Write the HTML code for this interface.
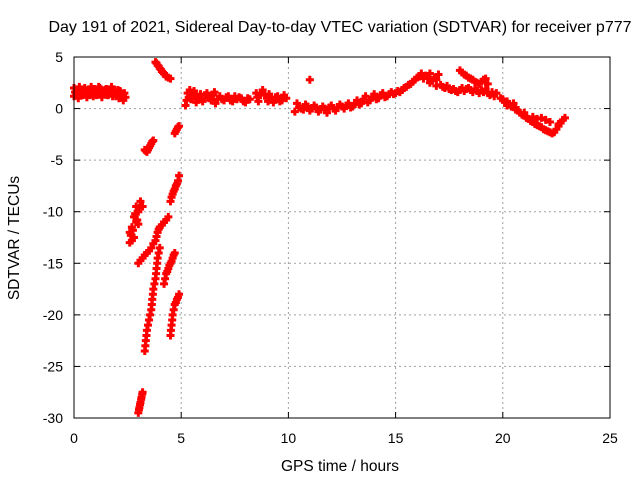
<!DOCTYPE html>
<html><head><meta charset="utf-8"><style>
body{margin:0;background:#fff;}
svg{display:block;font-family:"Liberation Sans",sans-serif;}
</style></head><body>
<svg id="chart" width="640" height="480">
<text x="340" y="32" font-size="16" text-anchor="middle">Day 191 of 2021, Sidereal Day-to-day VTEC variation (SDTVAR) for receiver p777</text>
<text x="340" y="471" font-size="15.5" text-anchor="middle">GPS time / hours</text>
<text transform="translate(19,238) rotate(-90)" font-size="15.5" text-anchor="middle">SDTVAR / TECUs</text>
<g id="grid"></g><g id="ticks"></g><g id="marks"></g>
<rect x="74" y="57" width="536" height="361" fill="none" stroke="#000" stroke-width="1"/>
</svg>
<script>
const xTicks=[0,5,10,15,20,25];
const yTicks=[5,0,-5,-10,-15,-20,-25,-30];
// early morning band
const hA=[0,0,0.1,0.2,0.3,0.4,0.5,0.6,0.7,0.8,0.9,1,1.1,1.2,1.3,1.4,1.5,1.6,1.7,1.8,1.9,2,2.1,2.2,2.3,2.4];
const vA=[1.2,2,1.5,1,1.8,1.3,2,1.1,1.6,2.1,1.2,1.7,1.4,2,1.1,1.6,1.9,1.3,1.7,1.2,1.8,1.5,1,1.3,0.8,1.1];
const hB=[0.05,0.15,0.25,0.35,0.45,0.55,0.65,0.75,0.85,0.95,1.05,1.15,1.25,1.35,1.45,1.55,1.65,1.75,1.85,1.95,2.05,2.15,2.25,2.35];
const vB=[1.6,1.3,2.1,1.4,1.7,1.5,1.8,1.3,1.5,1.9,1.3,2.1,1.6,1.4,1.8,1.3,1.5,2.1,1.5,1.2,1.8,1.7,1.2,1.5];
// steep low-elevation arcs
const hC=[3.8,3.85,3.9,3.95,4,4.05,4.1,4.15,4.2,4.3,4.4,4.5, 3.3,3.35,3.4,3.45,3.5,3.55,3.6,3.65,3.7, 4.7,4.75,4.8,4.85,4.9];
const vC=[4.5,4.4,4.2,4.1,3.9,3.8,3.6,3.5,3.4,3.1,3,2.9, -4,-4.1,-4.2,-4,-3.8,-3.6,-3.4,-3.2,-3.1, -2.4,-2.2,-2,-1.8,-1.7];
const hD=[4.5,4.55,4.6,4.65,4.7,4.75,4.8,4.85,4.9, 2.6,2.6,2.7,2.8,2.8,2.9,2.9,3,3.1,3.2,2.7,3,2.65,2.75,2.85,2.95,3.05];
const vD=[-9,-8.6,-8.3,-8,-7.8,-7.5,-7.3,-7,-6.5, -13,-12,-11.5,-12.5,-10.5,-11,-9.5,-10,-9,-9.5,-12.8,-11.2,-12.3,-11.8,-10.2,-10.8,-9.6];
const hE=[3,3.1,3.2,3.3,3.4,3.5,3.6,3.7,3.8,3.85,3.9,3.95,4,4.1,4.2,4.3,4.4];
const vE=[-15,-14.7,-14.5,-14.2,-14,-13.8,-13.5,-13.1,-12.8,-12.4,-12,-11.7,-11.5,-11.3,-11,-10.8,-10.5];
const hF=[3.3,3.33,3.35,3.38,3.4,3.45,3.5,3.55,3.6,3.63,3.65,3.68,3.7,3.75,3.8,3.83,3.85,3.88,3.9,3.95,4];
const vF=[-23.5,-23,-22.5,-22,-21.5,-21,-20.5,-20,-19.5,-19,-18.5,-18,-17.5,-17,-16.5,-16,-15.5,-15,-14.5,-14,-13.5];
const hG=[4.5,4.52,4.55,4.58,4.6,4.65,4.7,4.75,4.8,4.85,4.9, 4.2,4.25,4.3,4.35,4.4,4.45,4.5,4.55,4.6,4.65,4.7, 3,3.03,3.05,3.08,3.1,3.13,3.15,3.18,3.2];
const vG=[-22,-21.5,-21,-20.5,-20,-19.5,-19,-18.8,-18.5,-18.3,-18, -17,-16.5,-16,-15.8,-15.5,-15.2,-15,-14.8,-14.5,-14.2,-14, -29.5,-29.2,-29,-28.7,-28.5,-28.2,-28,-27.7,-27.5];
// daytime band
const hH=[5.2,5.3,5.4,5.5,5.6,5.7,5.9,6,6.2,6.3,6.5,6.6,6.8,7,7.2,7.4,7.6,7.8,8,8.2];
const vH=[0.3,1.5,1.8,1,1.7,0.6,1.4,0.7,1.5,1,1.3,0.5,1.2,0.8,1.2,0.7,0.9,1,0.6,0.9];
const hI=[5.25,5.35,5.45,5.55,5.65,5.8,5.95,6.1,6.25,6.4,6.55,6.7,6.9,7.1,7.3,7.5,7.7,7.9,8.1];
const vI=[0.8,1.1,0.9,1.4,1.2,1.1,0.9,1.3,1.1,0.8,1.6,0.9,0.9,1.1,0.8,1.2,1.1,0.7,1];
const hJ=[8.5,8.6,8.8,9,9.1,9.3,9.5,9.7,9.9,8.55,8.7,8.9,9.05,9.2,9.4,9.6,9.8];
const vJ=[1.5,0.7,1.8,1,1.4,0.6,1.2,0.8,1,1.1,1.3,1.4,0.7,1,1.1,0.7,1.3];
const hK=[10.3,10.4,10.6,10.8,11,11,11.2,11.4,11.6,11.8,12,12.2,12.4,12.6,12.8,13,13.2,13.4,13.6,13.8,14,14.2,14.4,14.6,14.8,15,15.2,15.4,15.6,15.8,16,16.2,16.4,16.6,16.8,17,16.6,16.9];
const vK=[-0.3,0.5,0,0.4,-0.2,2.8,0.3,-0.3,0.2,-0.4,0.3,-0.2,0.4,0,0.5,0.2,0.8,0.5,1.2,0.8,1.4,1,1.5,1.2,1.6,1.5,1.6,2,2.3,2.6,3,3.4,3.2,3.4,3,3.3,2.5,2.2];
const hL=[10.5,10.7,10.9,11.1,11.3,11.5,11.7,11.9,12.1,12.3,12.5,12.7,12.9,13.1,13.3,13.5,13.7,13.9,14.1,14.3,14.5,14.7,14.9,15.1,15.3,15.5,15.7,15.9,16.1,16.3,16.5,16.7,16.9];
const vL=[0.1,-0.1,0.2,0,0.1,-0.1,0,0.1,0,0.1,0.2,0.3,0.1,0.5,0.4,0.9,0.6,1.1,0.9,1.3,1.1,1.4,1.4,1.7,1.8,2.1,2.4,2.8,3.1,2.9,3,2.7,2.8];
// evening
const hM=[17.1,17.2,17.3,17.4,17.5,17.6,17.7,17.8,17.9,18,18.1,18.2,18.3,18.4,18.5,18.6,18.7,18.8,18.9,19,19.1,19.2,19.3,19.4,19.5,19.6,19.7];
const vM=[2.3,2.1,2.0,2.2,1.9,1.8,1.9,1.7,1.6,1.8,2.0,1.7,1.9,2.0,1.8,1.6,1.9,1.7,1.5,1.8,1.6,1.9,1.5,1.3,1.6,1.2,1.5];
const hN=[18,18.1,18.2,18.3,18.4,18.5,18.6,18.7,18.8,18.9,19,19.1,19.2,19.3];
const vN=[3.7,3.5,3.3,3.2,3.0,2.9,2.8,2.6,2.5,2.4,2.6,2.8,2.9,2.4];
const hO=[19.9,20,20.1,20.2,20.3,20.4,20.5,20.6,20.7,20.8,20.9,21,21.1,21.2,21.3,21.4,21.5,21.6,21.7,21.8,21.9,22,22.1,22.2,22.3,22.4,22.5,22.6,22.7,22.8,22.9];
const vO=[1.0,0.9,0.6,0.7,0.4,0.2,0.5,0.1,-0.2,-0.4,-0.6,-0.7,-0.9,-1.0,-1.2,-1.3,-1.5,-1.6,-1.7,-1.8,-2.0,-2.1,-2.2,-2.3,-2.4,-2.3,-2.0,-1.7,-1.4,-1.1,-0.9];
const hP=[20.2,20.6,21.0,21.4,21.6,21.8,22.0,22.2,22.6];
const vP=[0.3,-0.1,-0.4,-0.8,-1.0,-0.9,-1.1,-1.3,-1.5];

const hours=[].concat(hA,hB,hC,hD,hE,hF,hG,hH,hI,hJ,hK,hL,hM,hN,hO,hP);
const sdtvar=[].concat(vA,vB,vC,vD,vE,vF,vG,vH,vI,vJ,vK,vL,vM,vN,vO,vP);
const X0=74,X1=610,Y0=57,Y1=418;
const sx=v=>X0+(v-0)/25*(X1-X0);
const sy=v=>Y0+(5-v)/35*(Y1-Y0);
const NS="http://www.w3.org/2000/svg";
const grid=document.getElementById('grid'),ticks=document.getElementById('ticks'),marks=document.getElementById('marks');
function mk(t,a,p){const e=document.createElementNS(NS,t);for(const k in a)e.setAttribute(k,a[k]);p.appendChild(e);return e;}
xTicks.forEach(v=>{const x=sx(v);
 if(v>0&&v<25){const g=mk('line',{x1:x,x2:x,y1:Y0,y2:Y1,stroke:'#a0a0a0','stroke-dasharray':'2,3'},grid);
 
 }
 mk('line',{x1:x,x2:x,y1:Y1,y2:Y1-6,stroke:'#000'},ticks);
 mk('line',{x1:x,x2:x,y1:Y0,y2:Y0+6,stroke:'#000'},ticks);
 const t=mk('text',{x:x,y:443,'font-size':14,'text-anchor':'middle'},ticks);t.textContent=v;
 
 });
yTicks.forEach(v=>{const y=sy(v);
 if(v<5&&v>-30){const g=mk('line',{x1:X0,x2:X1,y1:y,y2:y,stroke:'#a0a0a0','stroke-dasharray':'2,3'},grid);
 
 }
 mk('line',{x1:X0,x2:X0+6,y1:y,y2:y,stroke:'#000'},ticks);
 mk('line',{x1:X1,x2:X1-6,y1:y,y2:y,stroke:'#000'},ticks);
 const t=mk('text',{x:63,y:y+5,'font-size':14,'text-anchor':'end'},ticks);t.textContent=v;
 
 });
hours.forEach((h,i)=>{const x=sx(h),y=sy(sdtvar[i]);
 const p=mk('path',{d:`M${x-4},${y}H${x+4}M${x},${y-4}V${y+4}`,stroke:'#f00','stroke-width':3,fill:'none'},marks);
 
 });
</script>
</body></html>
